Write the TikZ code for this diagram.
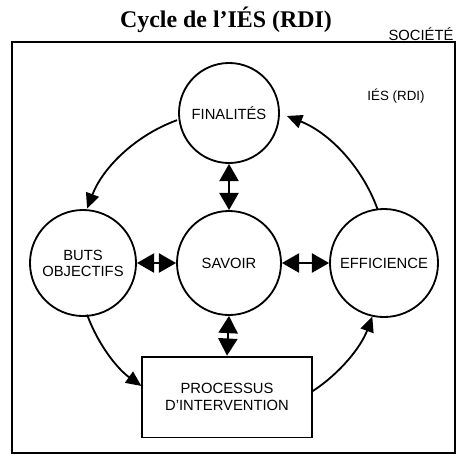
\documentclass[tikz,border=0pt]{standalone}
\usepackage{fontspec}
\setmainfont{Liberation Serif}
\setsansfont{Liberation Sans}
\usetikzlibrary{arrows.meta,calc}

\begin{document}
\begin{tikzpicture}[
  x=0.025cm,y=-0.025cm,
  line/.style={draw=black,line width=1.3pt},
  bubble/.style={line,circle,inner sep=0pt,font=\sffamily\fontsize{10.5}{11.5}\selectfont,align=center},
  flow/.style={line,-{Triangle[length=3.8mm,width=3.4mm]}},
  link/.style={line,{Triangle[length=4.3mm,width=4.8mm]}-{Triangle[length=4.3mm,width=4.8mm]}},
  label/.style={font=\sffamily\fontsize{9.5}{11}\selectfont},
  title/.style={font=\rmfamily\bfseries\fontsize{17}{20}\selectfont},
]
\useasboundingbox (0,0) rectangle (457,455);
\draw[line width=1pt] (12,42) rectangle (455,453);
\node[title] (head) at (226,20) {Cycle de l’IÉS (RDI)};
\node[label,font=\sffamily\fontsize{10.5}{12}\selectfont] (soc) at (421,34) {SOCIÉTÉ};
\node[label] (ies) at (396,96) {IÉS (RDI)};

\node[bubble,minimum size=2.5cm] (fin) at (229,113) {FINALITÉS};
\node[bubble,minimum size=2.6cm] (sav) at (229,263) {SAVOIR};
\node[bubble,minimum size=2.65cm] (buts) at (83,263) {BUTS\\OBJECTIFS};
\node[bubble,minimum size=2.7cm] (eff) at (384,263) {EFFICIENCE};
\node[line,minimum width=4.25cm,minimum height=2.02cm,align=center,
  font=\sffamily\fontsize{10.5}{12.5}\selectfont] (proc) at (227,397) {PROCESSUS\\D'INTERVENTION};

% cycle round the savoir
\draw[flow] ($(sav)+(-110:152)$) arc[start angle=-110,end angle=-159,radius=152];
\draw[flow] ($(sav)+(-200:151)$) arc[start angle=-200,end angle=-234.5,radius=151];
\draw[flow] ($(sav)+(57:153)$) arc[start angle=57,end angle=20.5,radius=153];
\draw[flow] ($(sav)+(-20:158)$) arc[start angle=-20,end angle=-68.5,radius=158];

\draw[link] (fin.south) -- (sav.north);
\draw[link] (sav.south) -- (proc.north);
\draw[link] (buts.east) -- (sav.west);
\draw[link] (sav.east) -- (eff.west);
\end{tikzpicture}
\end{document}
